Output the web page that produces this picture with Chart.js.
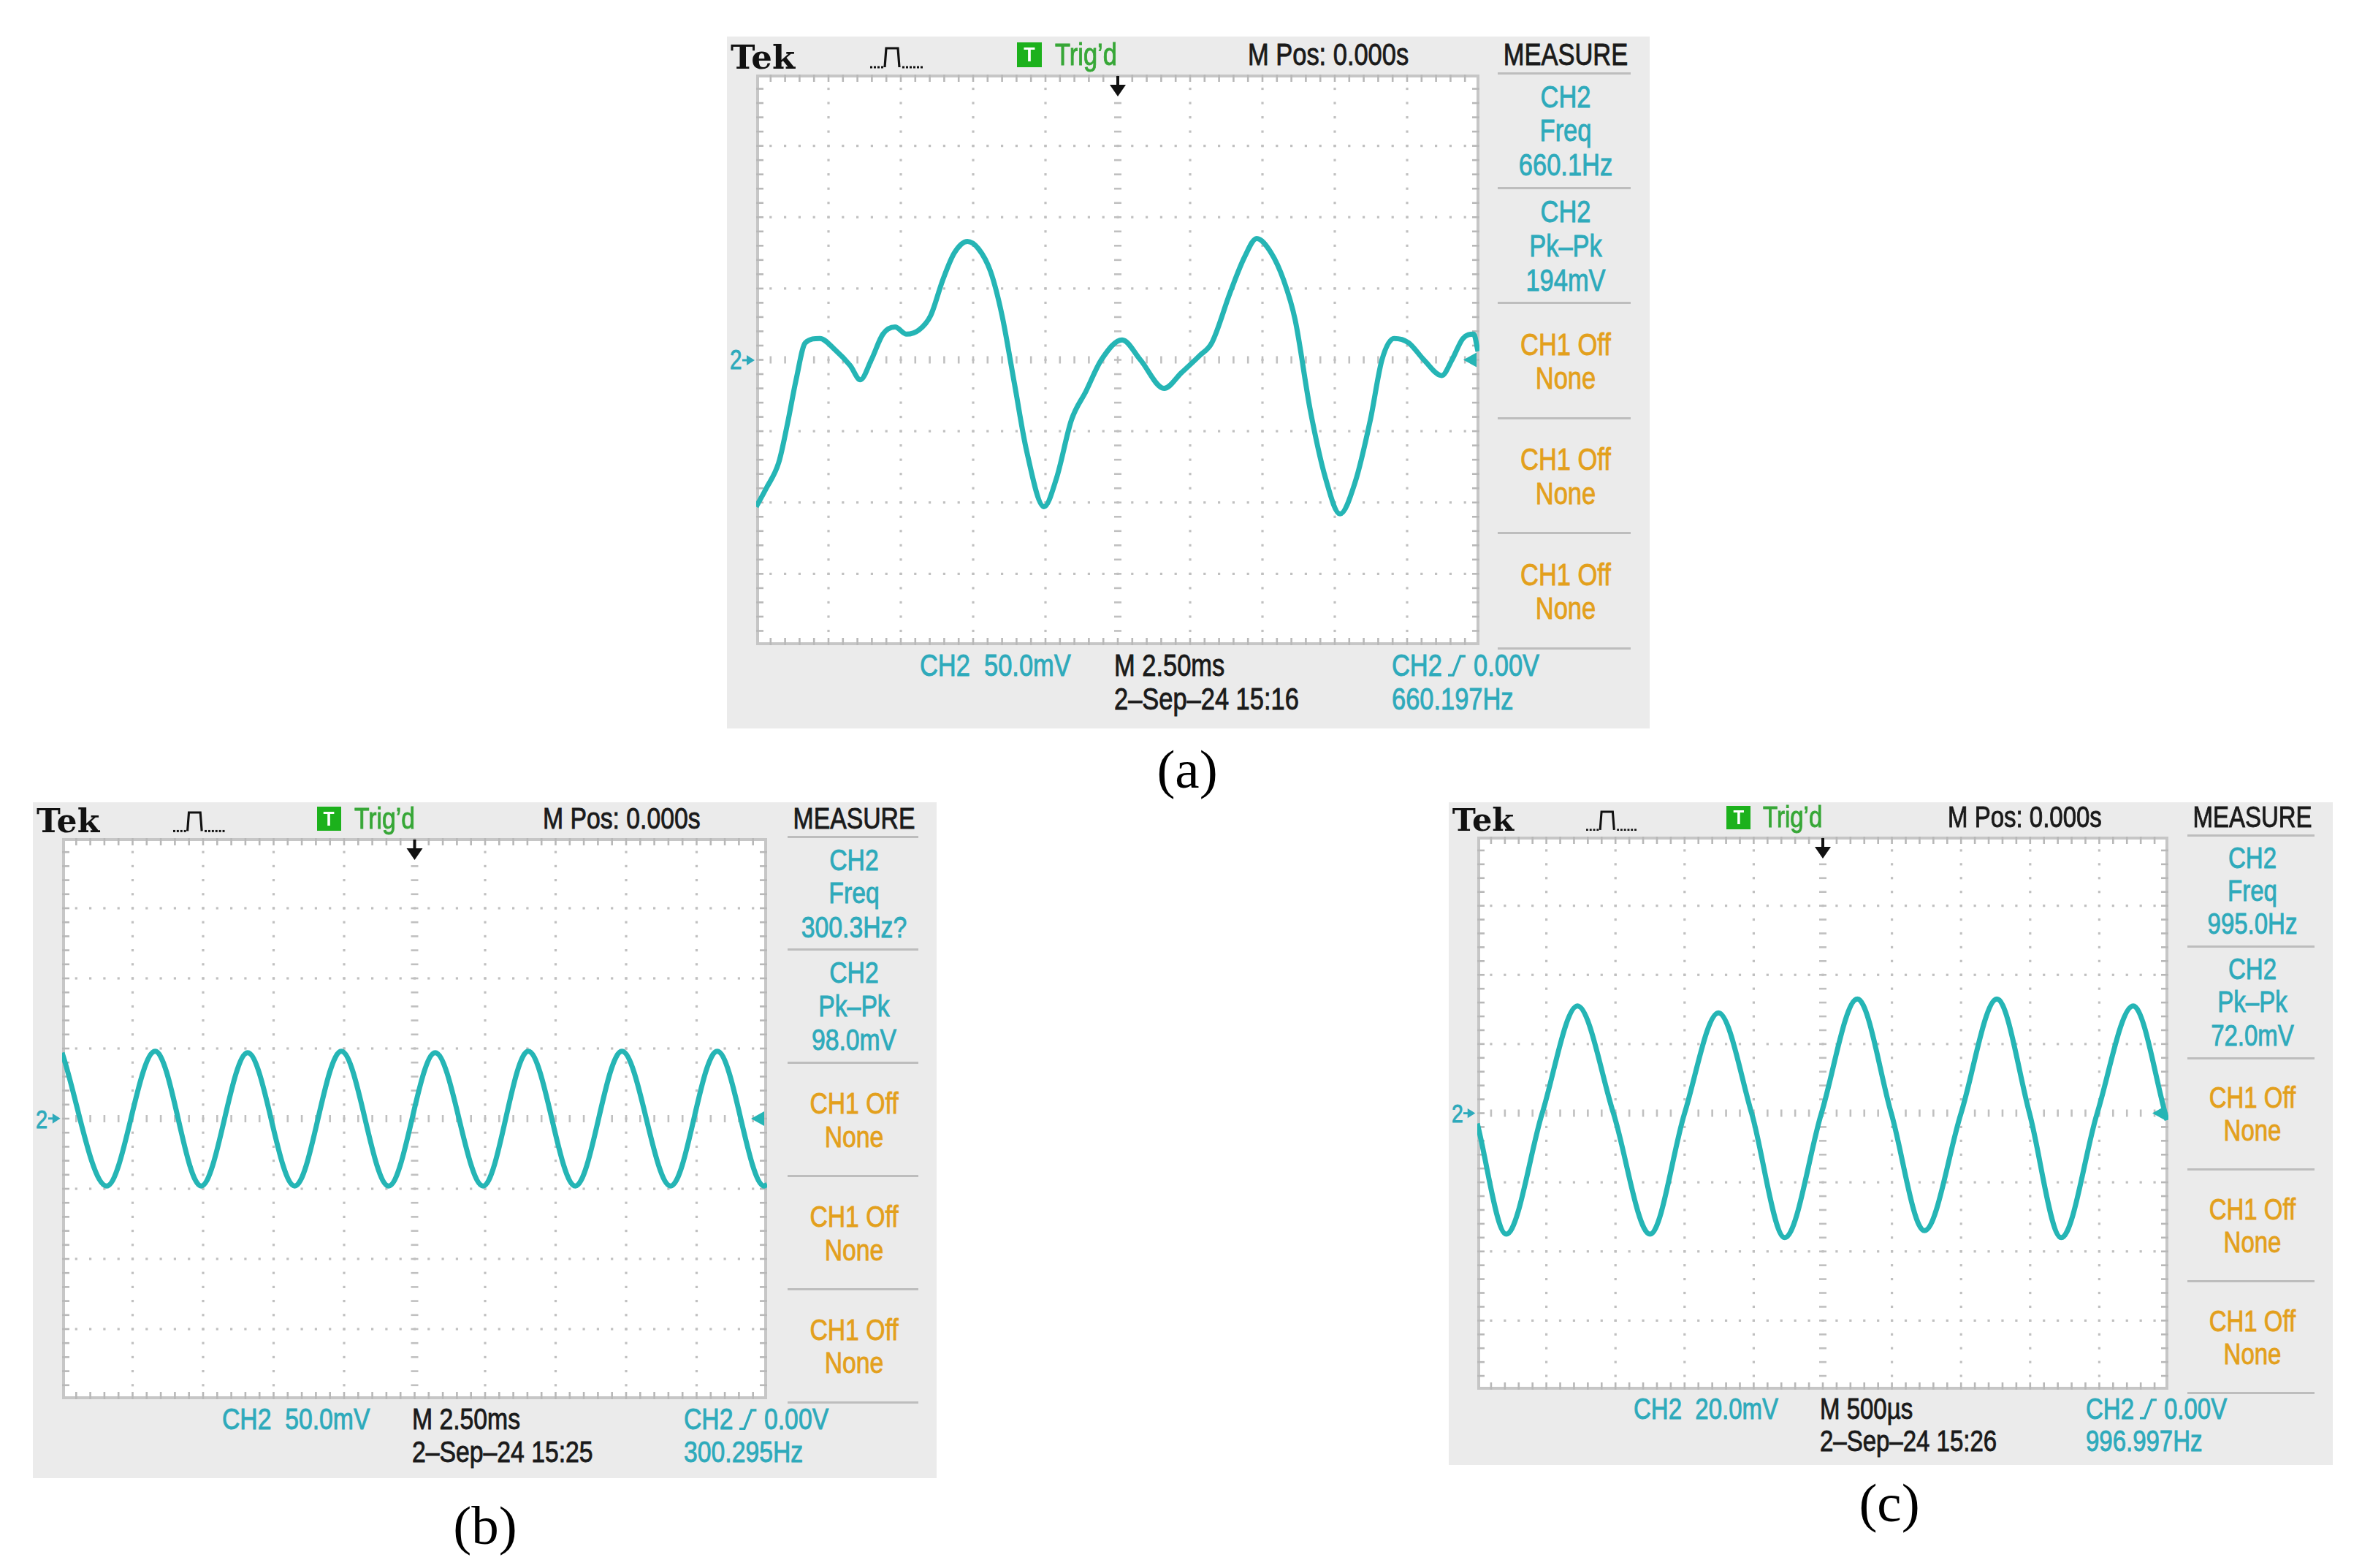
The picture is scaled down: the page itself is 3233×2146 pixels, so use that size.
<!DOCTYPE html>
<html><head><meta charset="utf-8">
<script src="https://cdn.jsdelivr.net/npm/chart.js@4.4.1/dist/chart.umd.min.js"></script>
<style>
html,body{margin:0;padding:0;background:#fff;}
#root{position:relative;width:3233px;height:2146px;overflow:hidden;background:#fff;}
.box{position:absolute;background:#ebebeb;}
.t{position:absolute;white-space:pre;font-family:"Liberation Sans",Arial,sans-serif;line-height:1;}
.plot{position:absolute;background:#fff;}
canvas{display:block;}
</style></head><body><div id="root"></div>
<script>
// ---------------- DATA ----------------
// Panel (a): time in ms, CH2 voltage in mV (50 mV/div, 2.5 ms/div)
const timeA = [0,0.35,0.78,1.08,1.38,1.70,2.20,2.73,3.25,3.60,3.98,4.38,4.80,5.20,5.63,6.03,6.45,6.85,7.30,7.68,8.10,8.50,8.93,9.35,9.95,10.38,10.90,11.40,11.93,12.65,13.28,14.10,14.70,15.33,15.75,16.38,16.88,17.30,17.80,18.23,18.63,19.15,19.68,20.18,20.70,21.23,21.63,22.05,22.55,23.08,23.70,24.05,24.43,24.80,24.95];
const voltA = [-103,-90,-72,-45,-14,12,15,7,-4,-14,0,18,23,18,21,31,56,75,83,78,62,31,-17,-64,-103,-83,-42,-22,0,14,0,-20,-9,3,12,47,72,85,75,56,28,-35,-83,-108,-86,-42,0,15,12,0,-11,0,15,18,6];
// Panel (b): time in ms of the crests/troughs, mV (50 mV/div, 2.5 ms/div)
const timeB = [0,1.58,3.30,4.93,6.58,8.25,9.90,11.58,13.23,14.93,16.53,18.20,19.85,21.58,23.23,24.90,25.0];
const voltB = [47,-48,48,-48,47,-48,48,-48,47,-48,48,-48,48,-48,48,-48,-47];
// Panel (c): time in ms, mV (20 mV/div, 500 us/div)
const timeC = [0,0.21,0.47,0.725,0.985,1.25,1.50,1.745,1.985,2.225,2.49,2.75,2.995,3.235,3.50,3.76,3.995,4.225,4.485,4.745,4.99];
const voltC = [-3,-35,0,31,0,-35,0,29,0,-36,0,33,0,-34,0,33,0,-36,0,31,-2];

// Scope settings / labels
const msPerDiv = [2.5, 2.5, 0.5];
const mvPerDiv = [50, 50, 20];
const measureA = [["CH2","Freq","660.1Hz"],["CH2","Pk\u2013Pk","194mV"]];
const measureB = [["CH2","Freq","300.3Hz?"],["CH2","Pk\u2013Pk","98.0mV"]];
const measureC = [["CH2","Freq","995.0Hz"],["CH2","Pk\u2013Pk","72.0mV"]];
const scaleLabels = ["CH2  50.0mV","CH2  50.0mV","CH2  20.0mV"];
const timeLabels = ["M 2.50ms","M 2.50ms","M 500\u00b5s"];
const dateLabels = ["2\u2013Sep\u201324 15:16","2\u2013Sep\u201324 15:25","2\u2013Sep\u201324 15:26"];
const trigFreqLabels = ["660.197Hz","300.295Hz","996.997Hz"];
const captions = ["(a)","(b)","(c)"];

// ---------------- STYLE ----------------
const TRACE = '#25b5b5';
const CYAN = '#2eaabb';
const ORANGE = '#e3a01c';
const GREEN_BOX = '#1cb11c';
const GREEN_TXT = '#37a737';
const GRID = '#c0c0c0';
const SEP = '#bdbdbd';
const DARK = '#1a1a1a';

const root = document.getElementById('root');

function txt(str, x, yc, size, color, align, opts) {
  opts = opts || {};
  const el = document.createElement('div');
  el.className = 't';
  el.textContent = str;
  el.style.fontSize = size + 'px';
  el.style.color = color;
  if (opts.family) el.style.fontFamily = opts.family;
  if (opts.weight) el.style.fontWeight = opts.weight;
  if (opts.stroke) el.style.webkitTextStroke = opts.stroke + 'px ' + color;
  const sx = opts.sx === undefined ? 0.82 : opts.sx;
  const k = opts.k === undefined ? 0.49 : opts.k;
  el.style.top = (yc - size * k) + 'px';
  el.style.left = x + 'px';
  if (align === 'center') {
    el.style.transformOrigin = '50% 50%';
    el.style.transform = 'translateX(-50%) scaleX(' + sx + ')';
  } else {
    el.style.transformOrigin = '0 50%';
    el.style.transform = 'scaleX(' + sx + ')';
  }
  root.appendChild(el);
  return el;
}
function stxt(str, x, yc, size, color, align) {
  return txt(str, x, yc, size, color, align, { stroke: 0.9 });
}

function rect(x, y, w, h, bg, cls) {
  const d = document.createElement('div');
  d.className = cls || 'box';
  d.style.left = x + 'px'; d.style.top = y + 'px';
  d.style.width = w + 'px'; d.style.height = h + 'px';
  if (bg) d.style.background = bg;
  root.appendChild(d);
  return d;
}

function svg(x, y, w, h, inner) {
  const d = document.createElement('div');
  d.style.position = 'absolute';
  d.style.left = x + 'px'; d.style.top = y + 'px';
  d.innerHTML = '<svg width="' + w + '" height="' + h + '" viewBox="0 0 ' + w + ' ' + h + '">' + inner + '</svg>';
  root.appendChild(d);
}

function graticule(xd, yd) {
  return {
    id: 'graticule',
    beforeDatasetsDraw(chart) {
      const ctx = chart.ctx, a = chart.chartArea, X = chart.scales.x, Y = chart.scales.y;
      ctx.save();
      ctx.fillStyle = GRID;
      const yMin = -4 * yd;
      for (let i = 1; i < 10; i++) {
        const px = X.getPixelForValue(i * xd);
        for (let k = 1; k < 40; k++) {
          const py = Y.getPixelForValue(yMin + k * yd / 5);
          if (i === 5) ctx.fillRect(px - 5, py - 1.3, 10, 2.6);
          else ctx.fillRect(px - 1.6, py - 1.6, 3.2, 3.2);
        }
      }
      for (let j = 1; j < 8; j++) {
        const py = Y.getPixelForValue(yMin + j * yd);
        for (let k = 1; k < 50; k++) {
          const px = X.getPixelForValue(k * xd / 5);
          if (j === 4) ctx.fillRect(px - 1.3, py - 5, 2.6, 10);
          else ctx.fillRect(px - 1.6, py - 1.6, 3.2, 3.2);
        }
      }
      // border with inward ticks
      ctx.strokeStyle = '#c6c6c6';
      ctx.lineWidth = 4;
      ctx.strokeRect(a.left + 2, a.top + 2, a.width - 4, a.height - 4);
      ctx.fillStyle = '#b8b8b8';
      for (let k = 1; k < 50; k++) {
        const px = X.getPixelForValue(k * xd / 5);
        ctx.fillRect(px - 1.3, a.top, 2.6, 10);
        ctx.fillRect(px - 1.3, a.bottom - 10, 2.6, 10);
      }
      for (let k = 1; k < 40; k++) {
        const py = Y.getPixelForValue(yMin + k * yd / 5);
        ctx.fillRect(a.left, py - 1.3, 10, 2.6);
        ctx.fillRect(a.right - 10, py - 1.3, 10, 2.6);
      }
      ctx.restore();
    },
    afterDatasetsDraw(chart) {
      const ctx = chart.ctx, a = chart.chartArea, X = chart.scales.x, Y = chart.scales.y;
      ctx.save();
      // trigger position arrow (top, centre)
      const cx = X.getPixelForValue(5 * xd);
      ctx.fillStyle = '#111';
      ctx.fillRect(cx - 2, a.top + 2, 4, 16);
      ctx.beginPath();
      ctx.moveTo(cx - 11, a.top + 14); ctx.lineTo(cx + 11, a.top + 14); ctx.lineTo(cx, a.top + 30); ctx.closePath();
      ctx.fill();
      // trigger level marker (right)
      const ly = Y.getPixelForValue(0);
      ctx.fillStyle = TRACE;
      ctx.beginPath();
      ctx.moveTo(a.right - 22, ly); ctx.lineTo(a.right - 4, ly - 10); ctx.lineTo(a.right - 4, ly + 10); ctx.closePath();
      ctx.fill();
      ctx.restore();
    }
  };
}

function panel(p) {
  const b = p.box, pl = p.plot;
  const s = b.w / 1263;
  rect(b.x, b.y, b.w, b.h);
  // plot canvas
  const holder = rect(pl.x, pl.y, pl.w, pl.h, '#fff', 'plot');
  const cv = document.createElement('canvas');
  cv.width = pl.w; cv.height = pl.h;
  cv.style.width = pl.w + 'px'; cv.style.height = pl.h + 'px';
  holder.appendChild(cv);
  const xd = msPerDiv[p.idx], yd = mvPerDiv[p.idx];
  new Chart(cv, {
    type: 'line',
    data: { datasets: [{
      data: p.t.map((t, i) => ({ x: t, y: p.v[i] })),
      borderColor: TRACE, borderWidth: 7, pointRadius: 0,
      cubicInterpolationMode: 'monotone', fill: false
    }]},
    options: {
      responsive: false, animation: false, events: [],
      layout: { padding: 0 },
      plugins: { legend: { display: false }, tooltip: { enabled: false } },
      scales: {
        x: { type: 'linear', min: 0, max: 10 * xd, display: false },
        y: { type: 'linear', min: -4 * yd, max: 4 * yd, display: false }
      }
    },
    plugins: [graticule(xd, yd)]
  });

  // header
  const hc = pl.y - 27 * s;
  const F = 42 * s;
  txt('Tek', b.x + 5 * s, pl.y - 8 * s, 45 * s, '#111', 'left',
      { family: '"DejaVu Serif","Liberation Serif",serif', weight: 'bold', sx: 1, k: 0.85 });
  // acquisition icon
  const pw = 74 * s, ph = 30 * s;
  let dots = '';
  for (let q = 0; q < 4; q++) dots += '<rect x="' + (q * 5 * s) + '" y="' + (ph - 3.5 * s) + '" width="' + (3 * s) + '" height="' + (3 * s) + '" fill="#111"/>';
  for (let q = 0; q < 6; q++) dots += '<rect x="' + ((44 + q * 5) * s) + '" y="' + (ph - 3.5 * s) + '" width="' + (3 * s) + '" height="' + (3 * s) + '" fill="#111"/>';
  svg(b.x + 196 * s, hc - ph / 2 + 4 * s, pw, ph,
      dots + '<path d="M' + (20 * s) + ' ' + (ph - 2 * s) + ' L' + (22 * s) + ' ' + (2 * s) + ' L' + (38 * s) + ' ' + (2 * s) + ' L' + (40 * s) + ' ' + (ph - 2 * s) + '" fill="none" stroke="#111" stroke-width="' + (3.2 * s) + '"/>');
  // T box
  const tb = 34 * s;
  rect(b.x + 397 * s, hc - tb / 2, tb, tb, GREEN_BOX, 'box');
  txt('T', b.x + 397 * s + tb / 2, hc, 28 * s, '#fff', 'center', { weight: 'bold', sx: 0.9 });
  stxt('Trig\u2019d', b.x + 449 * s, hc, F, GREEN_TXT, 'left');
  stxt('M Pos: 0.000s', b.x + 713 * s, hc, F, DARK, 'left');
  const sc = b.x + 1148 * s;
  stxt('MEASURE', sc, hc, F, DARK, 'center');

  // sidebar
  const sTop = pl.y - 2, sBot = pl.y + pl.h + 4;
  const bh = (sBot - sTop) / 5;
  const sx1 = b.x + 1055 * s, sx2 = b.x + 1237 * s;
  for (let k = 0; k <= 5; k++) {
    rect(sx1, sTop + k * bh - 1.5, sx2 - sx1, 3, SEP, 'box');
  }
  const meas = p.meas;
  for (let k = 0; k < 5; k++) {
    const top = sTop + k * bh;
    if (k < 2) {
      const L = meas[k];
      stxt(L[0], sc, top + 0.205 * bh, F, CYAN, 'center');
      stxt(L[1], sc, top + 0.50 * bh, F, CYAN, 'center');
      stxt(L[2], sc, top + 0.80 * bh, F, CYAN, 'center');
    } else {
      stxt('CH1 Off', sc, top + 0.36 * bh, F, ORANGE, 'center');
      stxt('None', sc, top + 0.655 * bh, F, ORANGE, 'center');
    }
  }

  // channel marker left of plot
  const cy = pl.y + pl.h / 2;
  stxt('2', b.x + 4 * s, cy, 36 * s, CYAN, 'left');
  svg(b.x + 21 * s, cy - 9 * s, 18 * s, 18 * s,
      '<path d="M0 ' + (9 * s) + ' L' + (7 * s) + ' ' + (9 * s) + '" stroke="' + CYAN + '" stroke-width="' + (3 * s) + '"/>' +
      '<path d="M' + (6 * s) + ' ' + (2 * s) + ' L' + (17 * s) + ' ' + (9 * s) + ' L' + (6 * s) + ' ' + (16 * s) + ' Z" fill="' + CYAN + '"/>');

  // bottom status lines
  const r1 = pl.y + pl.h + 28 * s, r2 = pl.y + pl.h + 74 * s;
  stxt(scaleLabels[p.idx], b.x + 264 * s, r1, F, CYAN, 'left');
  stxt(timeLabels[p.idx], b.x + 530 * s, r1, F, DARK, 'left');
  stxt(dateLabels[p.idx], b.x + 530 * s, r2, F, DARK, 'left');
  stxt('CH2', b.x + 910 * s, r1, F, CYAN, 'left');
  const ex = b.x + 986 * s;
  svg(ex, r1 - 15 * s, 26 * s, 30 * s,
      '<path d="M' + (1 * s) + ' ' + (28 * s) + ' L' + (8 * s) + ' ' + (28 * s) + ' L' + (18 * s) + ' ' + (2 * s) + ' L' + (25 * s) + ' ' + (2 * s) + '" fill="none" stroke="' + CYAN + '" stroke-width="' + (3.4 * s) + '"/>');
  stxt('0.00V', b.x + 1022 * s, r1, F, CYAN, 'left');
  stxt(trigFreqLabels[p.idx], b.x + 910 * s, r2, F, CYAN, 'left');

  // caption
  txt(captions[p.idx], p.cap[0], p.cap[1], 75, '#000', 'center',
      { family: '"Liberation Serif","Times New Roman",serif', sx: 1, k: 0.58 });
}

panel({ idx: 0, t: timeA, v: voltA, meas: measureA,
  box: { x: 995, y: 50, w: 1263, h: 947 }, plot: { x: 1035, y: 102, w: 990, h: 781 }, cap: [1625, 1058] });
panel({ idx: 1, t: timeB, v: voltB, meas: measureB,
  box: { x: 45, y: 1098, w: 1237, h: 925 }, plot: { x: 85, y: 1147, w: 965, h: 768 }, cap: [664, 2093] });
panel({ idx: 2, t: timeC, v: voltC, meas: measureC,
  box: { x: 1983, y: 1098, w: 1210, h: 907 }, plot: { x: 2022, y: 1145, w: 946, h: 757 }, cap: [2586, 2062] });
</script>
</body></html>
